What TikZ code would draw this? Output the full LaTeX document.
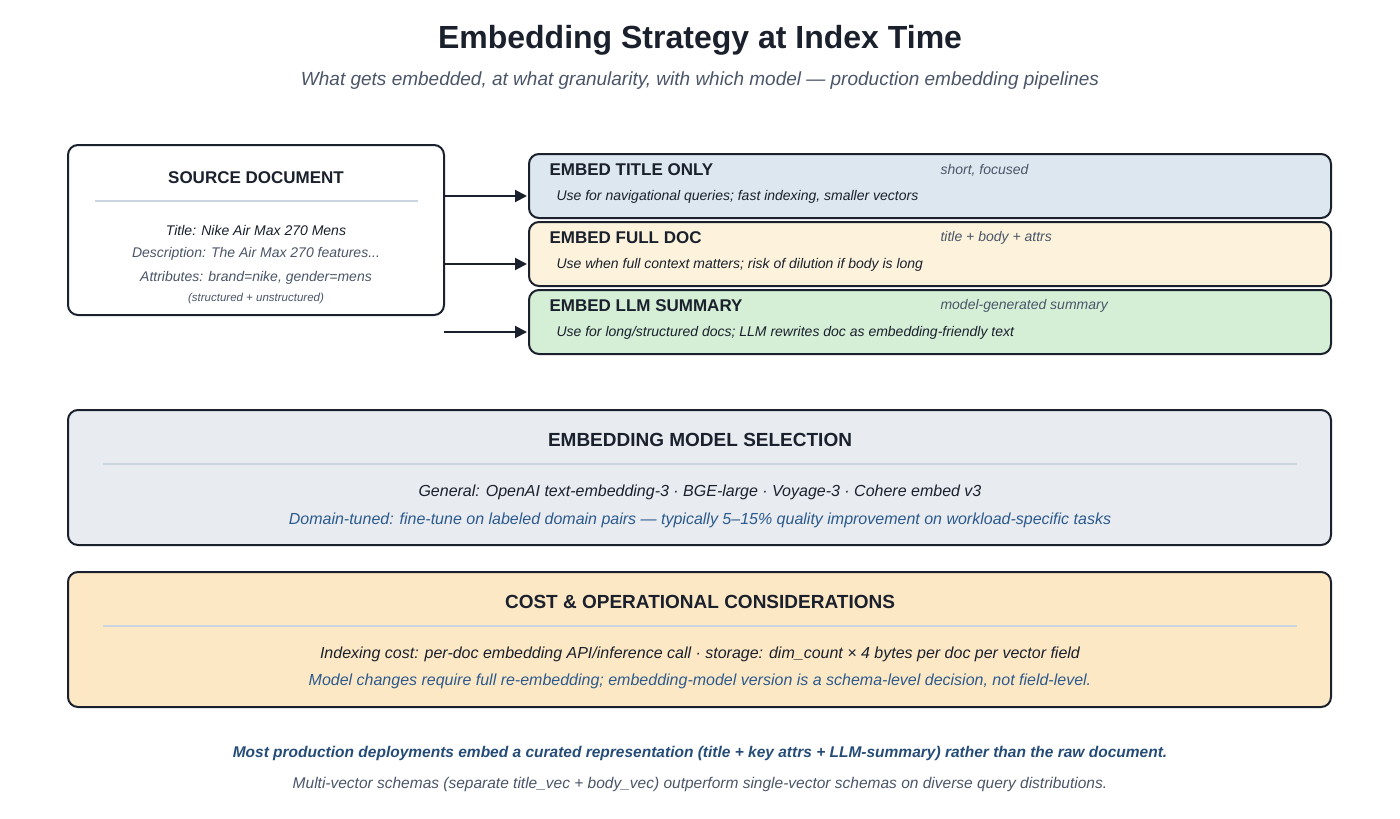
\documentclass[tikz,border=0pt]{standalone}
\usepackage{fontspec}
\setmainfont{Liberation Sans}
\usetikzlibrary{arrows.meta}
\definecolor{dark}{HTML}{1A202C}
\definecolor{gray}{HTML}{4A5568}
\definecolor{rule}{HTML}{CBD5E0}
\definecolor{blu}{HTML}{2C5A8C}
\definecolor{fA}{HTML}{DDE7F0}
\definecolor{fB}{HTML}{FDF3DC}
\definecolor{fC}{HTML}{D5EED6}
\definecolor{fD}{HTML}{E8ECF1}
\definecolor{fE}{HTML}{FDE8C6}
\newcommand{\fs}[1]{\fontsize{#1}{#1}\selectfont}
\begin{document}
\begin{tikzpicture}[x=1pt,y=-1pt,
  box/.style={draw=dark,line width=2pt,rounded corners=10pt},
  arr/.style={draw=dark,line width=2pt,-{Triangle[length=12pt,width=12pt]}},
  hd/.style={font=\fs{17}\bfseries,text=dark},
  it/.style={font=\fs{14}\itshape},
  sep/.style={draw=rule,line width=2pt}]
\useasboundingbox (0,0) rectangle (1400,819);
\node[font=\fs{32}\bfseries,text=dark] (title) at (700,40) {Embedding Strategy at Index Time};
\node[font=\fs{19}\itshape,text=gray] (sub) at (700,81) {What gets embedded, at what granularity, with which model — production embedding pipelines};
% source
\draw[box,fill=white] (68,145) rectangle (444,315);
\node[hd] (src) at (256,178) {SOURCE DOCUMENT};
\draw[sep] (95,201) -- (418,201);
\node[it,text=dark] (t1) at (256,230) {Title: Nike Air Max 270 Mens};
\node[it,text=gray] (t2) at (256,254) {Description: The Air Max 270 features...};
\node[it,text=gray] (t3) at (256,278) {Attributes: brand=nike, gender=mens};
\node[font=\fs{11.5}\itshape,text=gray] (t4) at (256,299) {(structured + unstructured)};
% right boxes
\foreach \y/\f/\h/\n/\b [count=\i] in {154/fA/{EMBED TITLE ONLY}/{short, focused}/{Use for navigational queries; fast indexing, smaller vectors},
  222/fB/{EMBED FULL DOC}/{title + body + attrs}/{Use when full context matters; risk of dilution if body is long},
  290/fC/{EMBED LLM SUMMARY}/{model-generated summary}/{Use for long/structured docs; LLM rewrites doc as embedding-friendly text}}{
  \draw[box,fill=\f] (529,\y) rectangle (1331,\y+64);
  \node[hd,anchor=west] (h\i) at (546,\y+16) {\h};
  \node[it,text=gray,anchor=west] (n\i) at (937,\y+16) {\n};
  \node[font=\fs{14}\itshape,text=dark,anchor=west] (d\i) at (553,\y+43) {\b};
  \coordinate (in\i) at (527,\y+42);
}
\coordinate (s1) at (444,196);
\coordinate (s2) at (444,264);
\coordinate (s3) at (444,332);
\draw[arr] (s1) -- (in1);
\draw[arr] (s2) -- (in2);
\draw[arr] (s3) -- (in3);
% model
\draw[box,fill=fD] (68,410) rectangle (1331,545);
\node[font=\fs{19}\bfseries,text=dark] (mh) at (700,440) {EMBEDDING MODEL SELECTION};
\draw[sep] (103,464) -- (1297,464);
\node[font=\fs{16}\itshape,text=dark] (m1) at (700,492) {General: OpenAI text-embedding-3 · BGE-large · Voyage-3 · Cohere embed v3};
\node[font=\fs{16}\itshape,text=blu] (m2) at (700,520) {Domain-tuned: fine-tune on labeled domain pairs — typically 5–15\% quality improvement on workload-specific tasks};
% cost
\draw[box,fill=fE] (68,572) rectangle (1331,707);
\node[font=\fs{19}\bfseries,text=dark] (ch) at (700,602) {COST \& OPERATIONAL CONSIDERATIONS};
\draw[sep] (103,626) -- (1297,626);
\node[font=\fs{16}\itshape,text=dark] (c1) at (700,654) {Indexing cost: per-doc embedding API/inference call · storage: dim\_count × 4 bytes per doc per vector field};
\node[font=\fs{16}\itshape,text=blu] (c2) at (700,681) {Model changes require full re-embedding; embedding-model version is a schema-level decision, not field-level.};
% footer
\node[font=\fs{15.5}\bfseries\itshape,text=blu!85!black] (f1) at (700,753) {Most production deployments embed a curated representation (title + key attrs + LLM-summary) rather than the raw document.};
\node[font=\fs{15.5}\itshape,text=gray] (f2) at (700,784) {Multi-vector schemas (separate title\_vec + body\_vec) outperform single-vector schemas on diverse query distributions.};
\end{tikzpicture}
\end{document}
